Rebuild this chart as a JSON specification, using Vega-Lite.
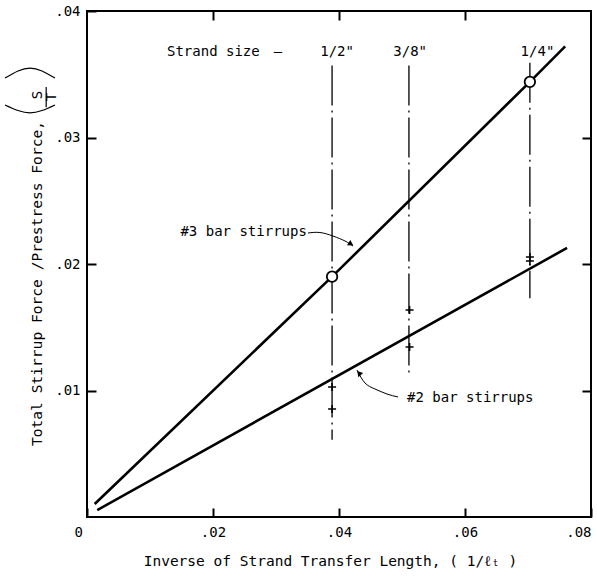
{
  "$schema": "https://vega.github.io/schema/vega-lite/v6.json",
  "width": 504,
  "height": 506,
  "autosize": "none",
  "padding": {"left": 87, "top": 11, "right": 6, "bottom": 59},
  "background": "white",
  "config": {
    "view": {"stroke": "black", "strokeWidth": 2},
    "font": "DejaVu Sans Mono",
    "text": {"font": "DejaVu Sans Mono"},
    "axis": {
      "grid": false,
      "domain": false,
      "labelFont": "DejaVu Sans Mono",
      "labelFontSize": 14,
      "labelColor": "black",
      "tickColor": "black",
      "tickWidth": 2,
      "titleFont": "DejaVu Sans Mono",
      "titleFontSize": 15,
      "titleFontWeight": "normal",
      "titleColor": "black"
    }
  },
  "datasets": {
    "curves": [
      {"stirrup": "#3 bar", "x": 0.00122, "y": 0.00103},
      {"stirrup": "#3 bar", "x": 0.0389, "y": 0.0190},
      {"stirrup": "#3 bar", "x": 0.0703, "y": 0.0344},
      {"stirrup": "#3 bar", "x": 0.0759, "y": 0.0372},
      {"stirrup": "#2 bar", "x": 0.00163, "y": 0.00055},
      {"stirrup": "#2 bar", "x": 0.0762, "y": 0.02127}
    ],
    "strands": [
      {"size": "1/2\"", "x": 0.0389, "y_low": 0.0061, "y_high": 0.0357, "label_x": 0.0397},
      {"size": "3/8\"", "x": 0.0511, "y_low": 0.0111, "y_high": 0.0357, "label_x": 0.0513},
      {"size": "1/4\"", "x": 0.0703, "y_low": 0.0173, "y_high": 0.0359, "label_x": 0.0715}
    ],
    "computed": [
      {"size": "1/2\"", "x": 0.0389, "y": 0.0190},
      {"size": "1/4\"", "x": 0.0703, "y": 0.0344}
    ],
    "tests": [
      {"size": "1/2\"", "x": 0.0389, "y": 0.01028},
      {"size": "1/2\"", "x": 0.0389, "y": 0.00854},
      {"size": "3/8\"", "x": 0.0512, "y": 0.01636},
      {"size": "3/8\"", "x": 0.0512, "y": 0.01344},
      {"size": "1/4\"", "x": 0.0703, "y": 0.02055},
      {"size": "1/4\"", "x": 0.0703, "y": 0.02024}
    ],
    "leaders": [
      {"note": "#3", "i": 1, "x": 0.03508, "y": 0.02245},
      {"note": "#3", "i": 2, "x": 0.03698, "y": 0.02249},
      {"note": "#3", "i": 3, "x": 0.03905, "y": 0.02221},
      {"note": "#3", "i": 4, "x": 0.04095, "y": 0.02182},
      {"note": "#3", "i": 5, "x": 0.04222, "y": 0.02142},
      {"note": "#2", "i": 1, "x": 0.04937, "y": 0.00949},
      {"note": "#2", "i": 2, "x": 0.04762, "y": 0.00972},
      {"note": "#2", "i": 3, "x": 0.04571, "y": 0.01012},
      {"note": "#2", "i": 4, "x": 0.04413, "y": 0.01059},
      {"note": "#2", "i": 5, "x": 0.04286, "y": 0.01162}
    ],
    "parens": [
      {"side": "open", "x": -0.01302, "y": 0.03257},
      {"side": "open", "x": -0.01095, "y": 0.03213},
      {"side": "open", "x": -0.00905, "y": 0.03194},
      {"side": "open", "x": -0.00714, "y": 0.03213},
      {"side": "open", "x": -0.00508, "y": 0.03257},
      {"side": "close", "x": -0.01302, "y": 0.0347},
      {"side": "close", "x": -0.01095, "y": 0.03526},
      {"side": "close", "x": -0.00905, "y": 0.03549},
      {"side": "close", "x": -0.00714, "y": 0.03526},
      {"side": "close", "x": -0.00508, "y": 0.0347}
    ]
  },
  "layer": [
    {
      "data": {"name": "strands"},
      "mark": {"type": "rule", "color": "black", "strokeWidth": 1.3, "strokeDash": [40, 5, 2, 5]},
      "encoding": {
        "x": {"field": "x", "type": "quantitative", "axis": null, "scale": {"domain": [0, 0.08], "nice": false, "zero": false}},
        "y": {"field": "y_high", "type": "quantitative", "axis": null, "scale": {"domain": [0, 0.04], "nice": false, "zero": false}},
        "y2": {"field": "y_low"}
      }
    },
    {
      "data": {"name": "curves"},
      "mark": {"type": "line", "color": "black", "strokeWidth": 2.6},
      "encoding": {
        "x": {
          "field": "x", "type": "quantitative",
          "scale": {"domain": [0, 0.08], "nice": false, "zero": false},
          "axis": {
            "orient": "bottom",
            "values": [0, 0.02, 0.04, 0.06, 0.08],
            "labelExpr": "datum.value == 0 ? '0' : replace(format(datum.value, '.2f'), '0.', '.')",
            "tickSize": -9,
            "labelPadding": 17,
            "labelOffset": {"condition": {"test": "datum.value == 0", "value": -13}, "value": 0},
            "title": "Inverse of Strand Transfer Length, ( 1/ℓₜ )",
            "titleFontSize": 14.5,
            "titleX": 243,
            "titleY": 44,
            "titleBaseline": "middle"
          }
        },
        "y": {
          "field": "y", "type": "quantitative",
          "scale": {"domain": [0, 0.04], "nice": false, "zero": false},
          "axis": {
            "orient": "left",
            "values": [0.01, 0.02, 0.03, 0.04],
            "labelExpr": "replace(format(datum.value, '.2f'), '0.', '.')",
            "tickSize": -9,
            "labelPadding": 16,
            "title": "Total Stirrup Force /Prestress Force,",
            "titleFontSize": 14.6,
            "titleX": -50,
            "titleY": 272,
            "titleBaseline": "middle"
          }
        },
        "detail": {"field": "stirrup"}
      }
    },
    {
      "data": {"name": "computed"},
      "mark": {"type": "point", "shape": "circle", "filled": true, "fill": "white", "stroke": "black", "strokeWidth": 1.8, "size": 110, "opacity": 1},
      "encoding": {
        "x": {
          "field": "x", "type": "quantitative",
          "scale": {"domain": [0, 0.08], "nice": false, "zero": false},
          "axis": {"orient": "top", "values": [0.02, 0.04, 0.06], "labels": false, "tickSize": -9, "title": null}
        },
        "y": {
          "field": "y", "type": "quantitative",
          "scale": {"domain": [0, 0.04], "nice": false, "zero": false},
          "axis": {"orient": "right", "values": [0.01, 0.02, 0.03], "labels": false, "tickSize": -9, "title": null}
        }
      }
    },
    {
      "data": {"name": "tests"},
      "mark": {"type": "point", "shape": "M-1,0L1,0M0,-1L0,1", "filled": false, "stroke": "black", "strokeWidth": 1.6, "size": 64, "opacity": 1},
      "encoding": {
        "x": {"field": "x", "type": "quantitative", "axis": null},
        "y": {"field": "y", "type": "quantitative", "axis": null}
      }
    },
    {
      "data": {"name": "strands"},
      "mark": {"type": "text", "color": "black", "fontSize": 14, "align": "center", "baseline": "middle"},
      "encoding": {
        "x": {"field": "label_x", "type": "quantitative", "axis": null},
        "y": {"datum": 0.03676, "type": "quantitative", "axis": null},
        "text": {"field": "size"}
      }
    },
    {
      "data": {"values": [{"text": "Strand size", "x": 0.0127, "y": 0.03676}, {"text": "#2 bar stirrups", "x": 0.0508, "y": 0.0094}]},
      "mark": {"type": "text", "color": "black", "fontSize": 14, "align": "left", "baseline": "middle"},
      "encoding": {
        "x": {"field": "x", "type": "quantitative", "axis": null},
        "y": {"field": "y", "type": "quantitative", "axis": null},
        "text": {"field": "text"}
      }
    },
    {
      "data": {"values": [{"text": "–", "x": 0.0303, "y": 0.03676}]},
      "mark": {"type": "text", "color": "black", "fontSize": 14, "align": "center", "baseline": "middle"},
      "encoding": {
        "x": {"field": "x", "type": "quantitative", "axis": null},
        "y": {"field": "y", "type": "quantitative", "axis": null},
        "text": {"field": "text"}
      }
    },
    {
      "data": {"values": [{"text": "#3 bar stirrups", "x": 0.0349, "y": 0.02253}]},
      "mark": {"type": "text", "color": "black", "fontSize": 14, "align": "right", "baseline": "middle"},
      "encoding": {
        "x": {"field": "x", "type": "quantitative", "axis": null},
        "y": {"field": "y", "type": "quantitative", "axis": null},
        "text": {"field": "text"}
      }
    },
    {
      "data": {"name": "leaders"},
      "mark": {"type": "line", "color": "black", "strokeWidth": 1, "interpolate": "natural"},
      "encoding": {
        "x": {"field": "x", "type": "quantitative", "axis": null},
        "y": {"field": "y", "type": "quantitative", "axis": null},
        "detail": {"field": "note"},
        "order": {"field": "i"}
      }
    },
    {
      "data": {"values": [{"note": "#3", "x": 0.0419, "y": 0.02158}]},
      "mark": {"type": "point", "shape": "triangle-right", "filled": true, "color": "black", "size": 40, "angle": 32, "opacity": 1},
      "encoding": {
        "x": {"field": "x", "type": "quantitative", "axis": null},
        "y": {"field": "y", "type": "quantitative", "axis": null}
      }
    },
    {
      "data": {"values": [{"note": "#2", "x": 0.04317, "y": 0.01138}]},
      "mark": {"type": "point", "shape": "triangle-right", "filled": true, "color": "black", "size": 40, "angle": 230, "opacity": 1},
      "encoding": {
        "x": {"field": "x", "type": "quantitative", "axis": null},
        "y": {"field": "y", "type": "quantitative", "axis": null}
      }
    },
    {
      "data": {"values": [{"text": "S", "x": -0.00778, "y": 0.03336}, {"text": "T", "x": -0.00556, "y": 0.0332}]},
      "mark": {"type": "text", "color": "black", "fontSize": 14, "align": "center", "baseline": "middle", "angle": 270},
      "encoding": {
        "x": {"field": "x", "type": "quantitative", "axis": null},
        "y": {"field": "y", "type": "quantitative", "axis": null},
        "text": {"field": "text"}
      }
    },
    {
      "data": {"values": [{"x": -0.00648, "y": 0.0324, "y2": 0.0340}]},
      "mark": {"type": "rule", "color": "black", "strokeWidth": 1.2},
      "encoding": {
        "x": {"field": "x", "type": "quantitative", "axis": null},
        "y": {"field": "y", "type": "quantitative", "axis": null},
        "y2": {"field": "y2"}
      }
    },
    {
      "data": {"name": "parens"},
      "mark": {"type": "line", "color": "black", "strokeWidth": 1.2, "interpolate": "natural"},
      "encoding": {
        "x": {"field": "x", "type": "quantitative", "axis": null},
        "y": {"field": "y", "type": "quantitative", "axis": null},
        "detail": {"field": "side"}
      }
    }
  ],
  "resolve": {"axis": {"x": "independent", "y": "independent"}}
}
